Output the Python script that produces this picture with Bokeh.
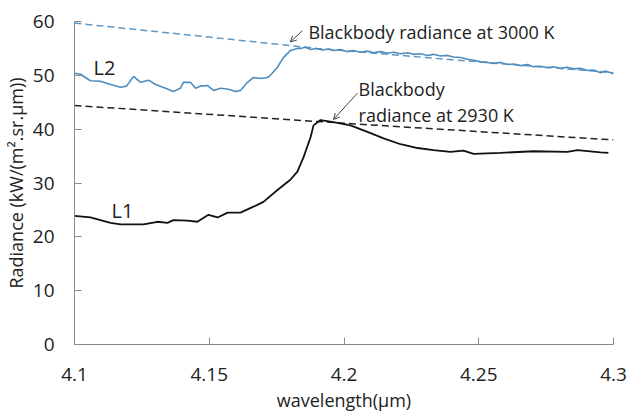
from bokeh.plotting import figure
from bokeh.models import Label, Arrow, OpenHead, FixedTicker, CustomJSTickFormatter
from bokeh.embed import file_html
from bokeh.resources import INLINE

# ---- data ----
x_ticks = [4.1, 4.15, 4.2, 4.25, 4.3]
y_ticks = [0, 10, 20, 30, 40, 50, 60]

l2_wl = [4.1000, 4.1022, 4.1059, 4.1096, 4.1134, 4.1171, 4.1193, 4.1219, 4.1245, 4.1275,
         4.1301, 4.1338, 4.1367, 4.1393, 4.1404, 4.1430, 4.1449, 4.1468, 4.1494, 4.1516,
         4.1542, 4.1571, 4.1597, 4.1616, 4.1642, 4.1664, 4.1690, 4.1716, 4.1727, 4.1753,
         4.1775, 4.1801, 4.1827, 4.1839, 4.1857, 4.1876, 4.1898, 4.1920, 4.1943, 4.1961,
         4.1987, 4.2013, 4.2035, 4.2061, 4.2087, 4.2109, 4.2135, 4.2161, 4.2184, 4.2210,
         4.2236, 4.2258, 4.2284, 4.2310, 4.2332, 4.2358, 4.2384, 4.2406, 4.2432, 4.2458,
         4.2481, 4.2507, 4.2532, 4.2555, 4.2581, 4.2607, 4.2629, 4.2655, 4.2681, 4.2703,
         4.2729, 4.2755, 4.2777, 4.2803, 4.2829, 4.2852, 4.2878, 4.2904, 4.2926, 4.2952,
         4.2970, 4.3000]
l2_rad = [50.4, 50.2, 49.0, 48.9, 48.3, 47.8, 48.0, 49.8, 48.7, 49.1,
          48.3, 47.6, 47.0, 47.6, 48.7, 48.7, 47.6, 48.0, 48.1, 47.2,
          47.6, 47.4, 47.0, 47.2, 48.7, 49.6, 49.4, 49.6, 50.0, 51.5,
          53.3, 54.6, 55.0, 55.0, 55.2, 54.8, 55.0, 54.7, 54.9, 54.6,
          54.8, 54.4, 54.6, 54.3, 54.5, 54.2, 54.4, 54.1, 54.3, 54.0,
          54.2, 53.9, 54.0, 53.7, 53.9, 53.6, 53.7, 53.4, 53.3, 53.0,
          52.8, 52.5, 52.4, 52.2, 52.4, 52.0, 52.1, 51.8, 52.0, 51.6,
          51.7, 51.4, 51.6, 51.3, 51.5, 51.2, 51.3, 50.9, 51.0, 50.5,
          50.8, 50.3]

l1_wl = [4.1000, 4.1059, 4.1134, 4.1171, 4.1256, 4.1308, 4.1345, 4.1367, 4.1419, 4.1456,
         4.1497, 4.1531, 4.1568, 4.1616, 4.1664, 4.1701, 4.1753, 4.1801, 4.1827, 4.1850,
         4.1876, 4.1887, 4.1913, 4.1961, 4.2024, 4.2087, 4.2147, 4.2210, 4.2273, 4.2332,
         4.2395, 4.2443, 4.2481, 4.2581, 4.2703, 4.2829, 4.2866, 4.2952, 4.2981]
l1_rad = [23.9, 23.6, 22.6, 22.3, 22.3, 22.8, 22.6, 23.1, 23.0, 22.8,
          24.1, 23.6, 24.5, 24.5, 25.6, 26.5, 28.7, 30.6, 32.1, 34.8,
          38.5, 40.7, 41.7, 41.3, 40.7, 39.5, 38.3, 37.2, 36.5, 36.1,
          35.8, 36.0, 35.4, 35.6, 35.9, 35.8, 36.1, 35.7, 35.6]

bb3000_wl = [4.10, 4.15, 4.19, 4.24, 4.30]
bb3000_rad = [59.7, 57.1, 55.0, 52.9, 50.5]

bb2930_wl = [4.10, 4.20, 4.30]
bb2930_rad = [44.4, 41.1, 38.0]

FONT = "Open Sans"
TXT = "#222222"
AXC = "#8a8a8a"

p = figure(width=629, height=414, x_range=(4.1, 4.3), y_range=(0, 60),
           output_backend="svg", toolbar_location=None,
           min_border_left=74, min_border_right=16, min_border_top=21, min_border_bottom=69)
p.outline_line_color = None
p.xgrid.visible = False
p.ygrid.visible = False
p.background_fill_color = "white"

p.line(bb3000_wl, bb3000_rad, line_color="#5f98c6", line_width=1.5, line_dash="7 4")
p.line(bb2930_wl, bb2930_rad, line_color="#222222", line_width=1.5, line_dash="7 4")
p.line(l2_wl, l2_rad, line_color="#4f8dbf", line_width=1.6)
p.line(l1_wl, l1_rad, line_color="#111111", line_width=1.8)

for ax in (p.xaxis[0], p.yaxis[0]):
    ax.axis_line_color = AXC
    ax.major_tick_line_color = AXC
    ax.minor_tick_line_color = None
    ax.major_tick_in = 7
    ax.major_tick_out = 0
    ax.major_label_text_font = FONT
    ax.major_label_text_font_size = "19px"
    ax.major_label_text_color = TXT
    ax.axis_label_text_font = FONT
    ax.axis_label_text_font_size = "18px"
    ax.axis_label_text_font_style = "normal"
    ax.axis_label_text_color = TXT

p.xaxis.ticker = FixedTicker(ticks=x_ticks)
p.xaxis.formatter = CustomJSTickFormatter(code="return String(parseFloat(tick.toFixed(2)));")
p.yaxis.ticker = FixedTicker(ticks=y_ticks)
p.xaxis.axis_label = "wavelength(μm)"
p.yaxis.axis_label = "Radiance (kW/(m².sr.μm))"
p.xaxis.major_label_standoff = 23
p.yaxis.major_label_standoff = 20
p.xaxis.axis_label_standoff = 4
p.yaxis.axis_label_standoff = 2

def lab(x, y, t, size="18px", align="left"):
    p.add_layout(Label(x=x, y=y, text=t, text_font=FONT, text_font_size=size,
                       text_color=TXT, text_align=align, text_baseline="middle"))

lab(4.1111, 51.5, "L2", "20px", "center")
lab(4.1178, 24.8, "L1", "20px", "center")
lab(4.1868, 58.0, "Blackbody radiance at 3000 K")
lab(4.2054, 47.4, "Blackbody")
lab(4.2054, 42.6, "radiance at 2930 K")

p.add_layout(Arrow(end=OpenHead(size=6, line_width=1, line_color="#444444"),
                   x_start=4.1846, y_start=58.3, x_end=4.1801, y_end=56.2,
                   line_width=1, line_color="#444444"))
p.add_layout(Arrow(end=OpenHead(size=6, line_width=1, line_color="#444444"),
                   x_start=4.2050, y_start=46.7, x_end=4.1961, y_end=41.8,
                   line_width=1, line_color="#444444"))

open("out.html", "w").write(file_html(p, INLINE))
